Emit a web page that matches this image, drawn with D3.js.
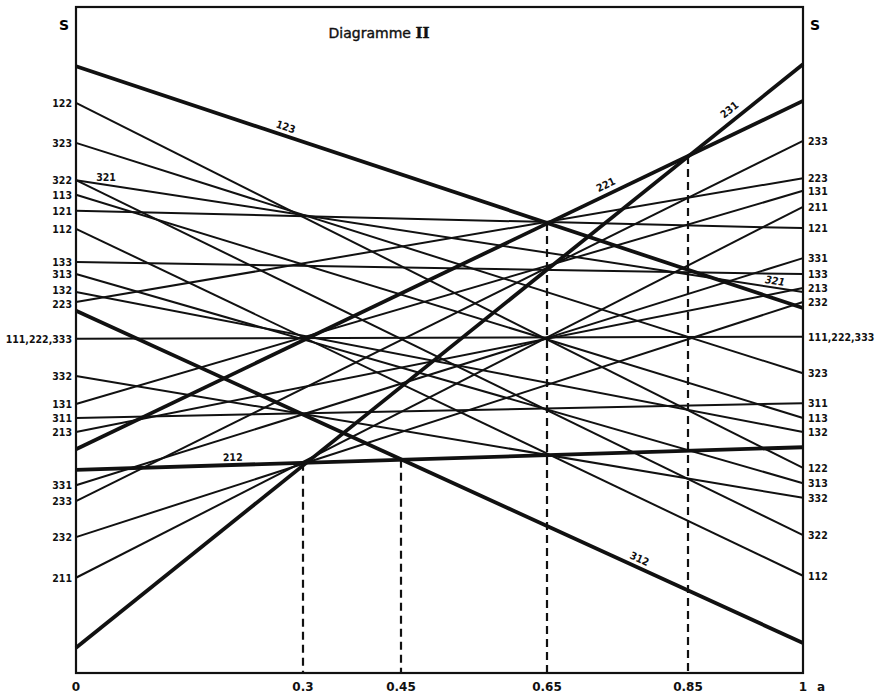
<!DOCTYPE html>
<html>
<head>
<meta charset="utf-8">
<script src="https://cdn.jsdelivr.net/npm/d3@7"></script>
<style>
	body { margin: 0; background: #fff; }
	svg { display: block; }
	.edge { font-family: "DejaVu Sans Condensed", "DejaVu Sans", sans-serif; font-stretch: condensed; font-weight: bold; font-size: 10.5px; fill: #111; }
	.tick-lab { font-family: "DejaVu Sans", sans-serif; font-size: 12px; fill: #111; }
</style>
</head>
<body>
<div id="container"></div>
<script>
var pi = Math.PI;
// values: S at a = 0 and at a = 1 for each line
var lineIds = ["123","122","323","322","321","113","121","112","133","313","132","223","312",
	"111,222,333","332","131","311","213","221","212","331","233","232","211","231"];
var sAtZero = [91.1, 85.6, 79.6, 74.0, 74.0, 71.8, 69.4, 66.7, 61.7, 59.9, 57.2, 55.7, 54.4,
	50.2, 44.6, 40.4, 38.3, 36.2, 33.6, 30.5, 28.2, 25.8, 20.4, 14.3, 3.8];
var sAtOne = [54.8, 30.8, 45.0, 20.7, 57.2, 38.3, 66.8, 14.6, 59.9, 28.5, 36.2, 74.3, 4.5,
	50.5, 26.3, 72.4, 40.5, 57.8, 85.9, 33.9, 62.3, 79.9, 55.7, 70.0, 91.4];
var thickIds = ["123","231","312","221","212"];
var noEdgeLabel = ["123","231","312","221","212","321"];

var aTicks = [0, 0.3, 0.45, 0.65, 0.85, 1];
var aTickLabels = ["0", "0.3", "0.45", "0.65", "0.85", "1"];
// dashed drops: a value and the line they start from
var dropA = [0.3, 0.45, 0.65, 0.85];
var dropLine = ["212", "212", "123", "221"];

var width = 877, height = 695;
var svg = d3.select("#container").append("svg")
	.attr("width", width)
	.attr("height", height);

// hand drawn axis: ticks are not evenly spaced
var x = d3.scaleLinear().domain(aTicks).range([76, 303, 401, 547, 688, 803]);
var y = d3.scaleLinear().domain([0, 100]).range([673, 7]);

var lines = lineIds.map(function(id, i){
	return {id: id, s0: sAtZero[i], s1: sAtOne[i], thick: thickIds.indexOf(id) >= 0};
});
function byId(id){ return lines.filter(function(l){ return l.id == id; })[0]; }
// y pixel of a line at a pixel x (lines are straight between a=0 and a=1)
function lineY(l, px){
	var t = (px - x(0)) / (x(1) - x(0));
	return y(l.s0) + (y(l.s1) - y(l.s0)) * t;
}

// frame
svg.append("rect")
	.attr("x", x(0)).attr("y", y(100))
	.attr("width", x(1) - x(0)).attr("height", y(0) - y(100))
	.style("fill", "none").style("stroke", "#111").style("stroke-width", 2.2);

// lines
svg.selectAll(".ln").data(lines).enter()
	.append("line")
	.attr("class", "ln")
	.attr("x1", x(0)).attr("x2", x(1))
	.attr("y1", function(d){ return y(d.s0); })
	.attr("y2", function(d){ return y(d.s1); })
	.style("stroke", "#111")
	.style("stroke-width", function(d){ return d.thick ? 3.8 : 2; });

// dashed drops to the a axis
dropA.forEach(function(a, i){
	var l = byId(dropLine[i]);
	svg.append("line")
		.attr("x1", x(a)).attr("x2", x(a))
		.attr("y1", lineY(l, x(a))).attr("y2", y(0))
		.style("stroke", "#111").style("stroke-width", 2.2)
		.style("stroke-dasharray", "8,5");
});

// edge labels (two on the left sit too close, push them apart a bit)
var leftNudge = {"132": -2, "223": 2};
var labelled = lines.filter(function(d){ return noEdgeLabel.indexOf(d.id) < 0; });
svg.selectAll(".left-lab").data(labelled).enter()
	.append("text")
	.attr("class", "edge")
	.attr("x", x(0) - 4)
	.attr("y", function(d){ return y(d.s0) + 4 + (leftNudge[d.id] || 0); })
	.style("text-anchor", "end")
	.text(function(d){ return d.id; });
svg.selectAll(".right-lab").data(labelled).enter()
	.append("text")
	.attr("class", "edge")
	.attr("x", x(1) + 5)
	.attr("y", function(d){ return y(d.s1) + 4; })
	.style("text-anchor", "start")
	.text(function(d){ return d.id; });

// labels written along some lines
var inline = [
	{id: "123", px: 283, off: 8},
	{id: "231", px: 736, off: 10},
	{id: "221", px: 610, off: 9},
	{id: "312", px: 636, off: 8},
	{id: "212", px: 233, off: 7},
	{id: "321", px: 106, off: 7, flat: true},
	{id: "321", px: 774, off: 6, italic: true}
];
inline.forEach(function(d){
	var l = byId(d.id);
	var yy = lineY(l, d.px);
	var ang = Math.atan2(y(l.s1) - y(l.s0), x(1) - x(0)) * 180 / pi;
	if (d.flat) ang = 0;
	svg.append("text")
		.attr("class", "edge")
		.attr("transform", "translate(" + d.px + "," + yy + ") rotate(" + ang + ")")
		.attr("y", -d.off + 3)
		.style("text-anchor", "middle")
		.style("font-style", d.italic ? "italic" : "normal")
		.text(d.id);
});

// a axis labels
svg.selectAll(".tick-lab").data(aTicks).enter()
	.append("text")
	.attr("class", "tick-lab")
	.attr("x", function(d){ return x(d); })
	.attr("y", 691)
	.style("text-anchor", "middle")
	.style("font-weight", "bold")
	.text(function(d, i){ return aTickLabels[i]; });
svg.append("text").attr("class", "tick-lab")
	.attr("x", x(1) + 14).attr("y", 691)
	.style("font-weight", "bold")
	.text("a");

// S on both sides
[x(0) - 12, x(1) + 12].forEach(function(px){
	svg.append("text")
		.attr("x", px).attr("y", 30)
		.style("text-anchor", "middle")
		.style("font-family", "DejaVu Sans, sans-serif")
		.style("font-weight", "bold")
		.style("font-size", "14px")
		.text("S");
});

// title
var title = svg.append("text")
	.attr("x", 379).attr("y", 38)
	.style("text-anchor", "middle")
	.style("font-family", "DejaVu Sans, sans-serif")
	.style("font-size", "14px")
	.style("stroke", "#111").style("stroke-width", 0.4)
	.style("fill", "#111");
title.append("tspan").text("Diagramme ");
title.append("tspan")
	.style("font-family", "DejaVu Serif, serif")
	.style("font-weight", "bold")
	.style("font-size", "15px")
	.text("II");
</script>
</body>
</html>
